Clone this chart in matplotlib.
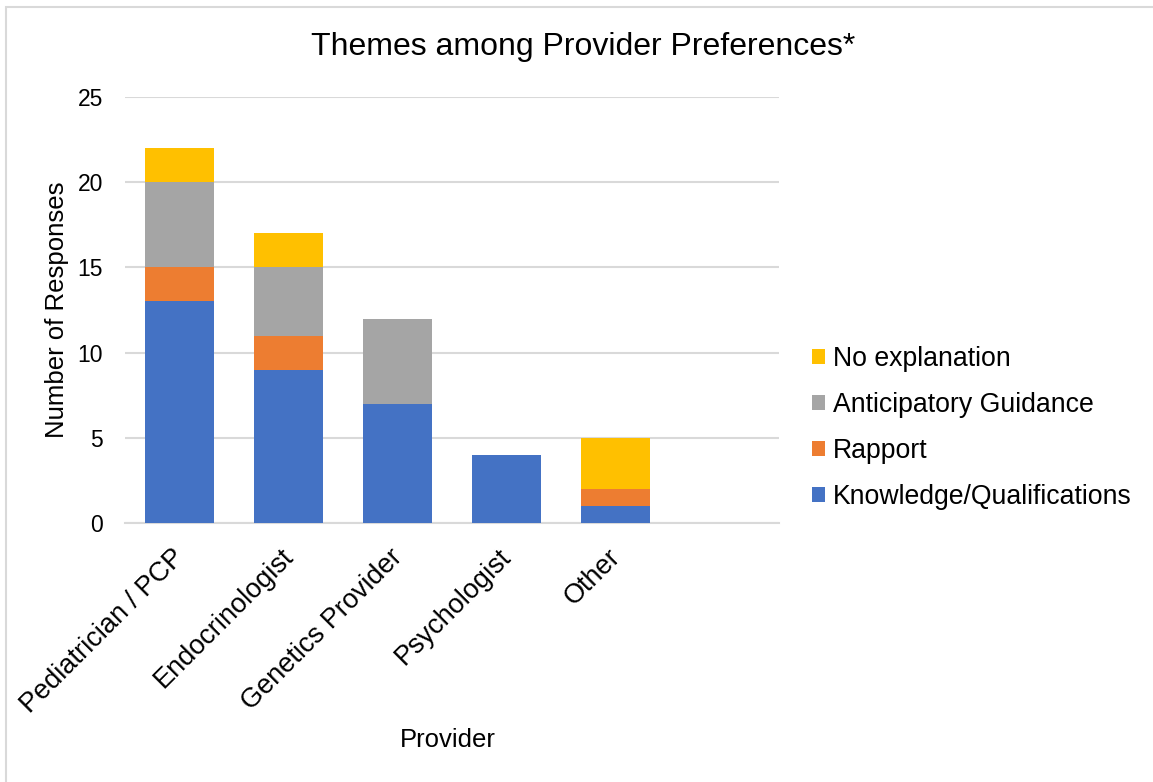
import numpy as np
import matplotlib.pyplot as plt
import matplotlib.transforms as mtransforms
from matplotlib.patches import Rectangle

plt.rcParams['font.family'] = ['Liberation Sans', 'DejaVu Sans']

# Données
providers = ["Pediatrician / PCP", "Endocrinologist", "Genetics Provider",
             "Psychologist", "Other", ""]
knowledge = [13, 9, 7, 4, 1, 0]
rapport = [2, 2, 0, 0, 1, 0]
guidance = [5, 4, 5, 0, 0, 0]
no_expl = [2, 2, 0, 0, 3, 0]

series = [("Knowledge/Qualifications", knowledge, "#4472C4"),
          ("Rapport", rapport, "#ED7D31"),
          ("Anticipatory Guidance", guidance, "#A5A5A5"),
          ("No explanation", no_expl, "#FFC000")]

fig = plt.figure(figsize=(11.53, 7.82), dpi=100)
W, H = 1153, 782
ax = fig.add_axes([125 / W, 1 - 523 / H, (779 - 125) / W, (523 - 97) / H])

x = np.arange(len(providers))
bottom = np.zeros(len(providers))
handles = []
for name, vals, col in series:
    b = ax.bar(x, vals, 0.64, bottom=bottom, color=col, label=name, zorder=3)
    bottom += np.array(vals)
    handles.append(b)

ax.set_xlim(-0.5, len(providers) - 0.5)
ax.set_ylim(0, 25)
ax.set_yticks(range(0, 26, 5))
ax.yaxis.grid(True, color="#D9D9D9", linewidth=1.5, zorder=0)
ax.set_axisbelow(True)
for s in ["top", "right", "left"]:
    ax.spines[s].set_visible(False)
ax.spines["bottom"].set_color("#D9D9D9")
ax.spines["bottom"].set_linewidth(1.5)
ax.tick_params(axis="both", length=0, colors="black")
ax.tick_params(axis="y", pad=16, labelsize=16.5)
ax.tick_params(axis="x", pad=15, labelsize=19.5)
ax.set_xticks(x)
ax.set_xticklabels(providers, rotation=45, ha="right", rotation_mode="anchor")
shift = mtransforms.ScaledTranslation(-8 / 100, 0, fig.dpi_scale_trans)
for lbl in ax.get_xticklabels():
    lbl.set_transform(lbl.get_transform() + shift)

ax.set_ylabel("Number of Responses", fontsize=18.5)
ax.set_xlabel("Provider", fontsize=18.5)
ax.xaxis.set_label_coords((448 - 125) / (779 - 125), -(740 - 523) / (523 - 97))
ax.yaxis.set_label_coords(-(125 - 57) / (779 - 125), 0.5)
ax.xaxis.label.set_va("center")
ax.yaxis.label.set_va("center")

fig.text(583 / W, 1 - 47 / H, "Themes among Provider Preferences*",
         ha="center", va="center", fontsize=23)

leg = fig.legend(handles[::-1], [s[0] for s in series][::-1],
                 loc="center left", bbox_to_anchor=(812 / W, 1 - 428 / H),
                 frameon=False, fontsize=19.2, handlelength=0.48,
                 handleheight=0.48, handletextpad=0.3, labelspacing=0.745,
                 borderpad=0, borderaxespad=0)

fig.patches.append(Rectangle((6 / W, -0.1), 1.2, 1 - 7 / H + 0.1,
                             transform=fig.transFigure, fill=False,
                             edgecolor="#D9D9D9", linewidth=1.5))

plt.savefig("out.png", dpi=100)
